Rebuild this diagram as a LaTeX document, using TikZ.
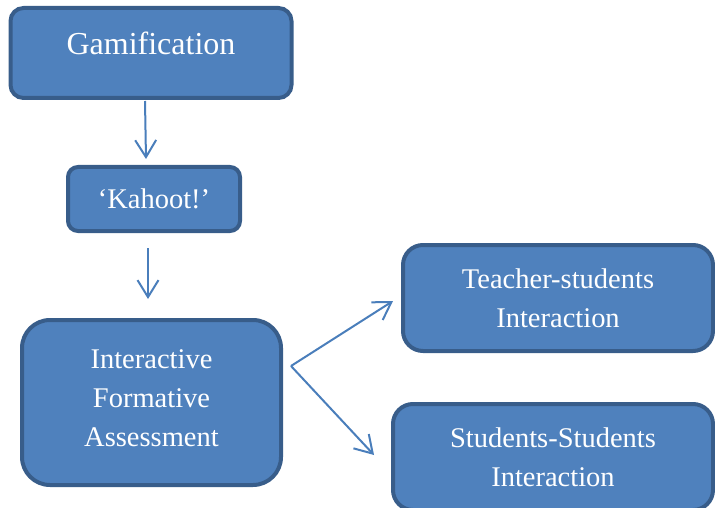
\documentclass[tikz,border=0pt]{standalone}
\usepackage{fontspec}
\setmainfont{Liberation Serif}
\usetikzlibrary{arrows.meta}
\definecolor{boxfill}{HTML}{4F81BD}
\definecolor{boxedge}{HTML}{385D8A}
\definecolor{arrowblue}{HTML}{4A7EBB}
\begin{document}
\begin{tikzpicture}[x=1pt,y=-1pt,
  box/.style={draw=boxedge, fill=boxfill, line width=4pt, text=white,
    inner sep=0pt, align=center, font=\fontsize{28.5}{39}\selectfont},
  arr/.style={draw=arrowblue, line width=2pt,
    -{Straight Barb[length=17pt,width=21pt,line width=2pt]}}]
\useasboundingbox (0,0) rectangle (715,508);
\clip (0,0) rectangle (715,508);

% boxes
\node[box, rounded corners=13pt, minimum width=281pt, minimum height=90pt,
  font=\fontsize{32}{39}\selectfont, text depth=19pt] (gam) at (151,53) {Gamification};
\node[box, rounded corners=10pt, minimum width=172pt, minimum height=64pt] (kah) at (154,199) {`Kahoot!'};
\node[box, rounded corners=28pt, minimum width=259pt, minimum height=165pt, text depth=9pt] (ifa) at (151.5,402.5)
  {Interactive\\Formative\\Assessment};
\node[box, rounded corners=20pt, minimum width=310pt, minimum height=106pt] (tsi) at (558,298)
  {Teacher-students\\Interaction};
\node[box, rounded corners=20pt, minimum width=320pt, minimum height=106pt] (ssi) at (553,457)
  {Students-Students\\Interaction};

% connector ends
\coordinate (a1s) at (145,101);
\coordinate (a1e) at (146,159);
\coordinate (a2s) at (148,248);
\coordinate (a2e) at (148,299);
\coordinate (fork) at (291,366);
\coordinate (a3e) at (393,301);
\coordinate (a4e) at (374,455);

\draw[arr] (a1s) -- (a1e);
\draw[arr] (a2s) -- (a2e);
\draw[arr] (fork) -- (a3e);
\draw[arr] (fork) -- (a4e);
\end{tikzpicture}
\end{document}
